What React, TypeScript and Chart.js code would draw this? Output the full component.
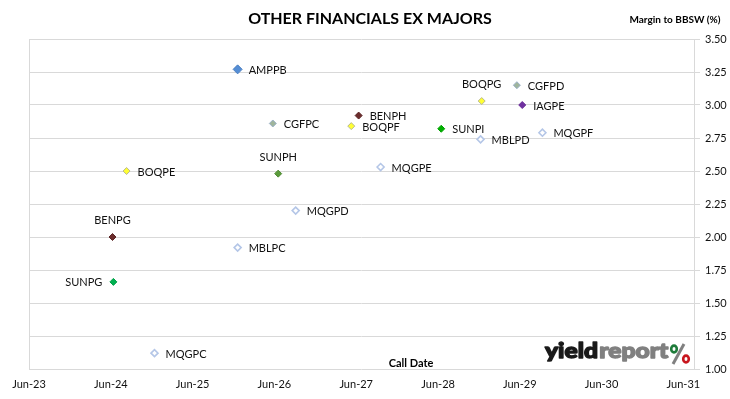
import React, { useEffect, useRef } from "react";
import { Chart, registerables } from "chart.js";

Chart.register(...registerables);

// ---------- data ----------
const securities = [
  "AMPPB", "BOQPG", "CGFPD", "IAGPE", "BENPH", "BOQPF", "CGFPC", "SUNPI", "MBLPD",
  "MQGPF", "BOQPE", "SUNPH", "MQGPE", "MQGPD", "BENPG", "MBLPC", "SUNPG", "MQGPC",
];
const callDates = [
  "2025-12-19", "2028-12-13", "2029-05-19", "2029-06-12", "2027-06-12", "2027-05-10",
  "2026-05-25", "2028-06-15", "2028-12-08", "2029-09-10", "2024-08-10", "2026-06-18",
  "2027-09-18", "2026-09-04", "2024-06-08", "2025-12-19", "2024-06-12", "2024-12-13",
];
const margins = [
  3.27, 3.03, 3.15, 3.0, 2.92, 2.84, 2.86, 2.82, 2.74,
  2.79, 2.5, 2.48, 2.53, 2.2, 2.0, 1.92, 1.66, 1.12,
];
const xTickLabels = ["Jun-23", "Jun-24", "Jun-25", "Jun-26", "Jun-27", "Jun-28", "Jun-29", "Jun-30", "Jun-31"];
const yMin = 1.0;
const yMax = 3.5;
const yStep = 0.25;
const titleText = "OTHER FINANCIALS EX MAJORS";
const yAxisTitle = "Margin to BBSW (%)";
const xAxisTitle = "Call Date";

// ---------- styles (kept apart from data) ----------
const issuerColours: Record<string, { bg: string; border: string; r: number }> = {
  AMPPB: { bg: "#558ED5", border: "#4A7EC0", r: 4.5 },
  BOQ: { bg: "#FFFF33", border: "#B8B890", r: 3.5 },
  CGF: { bg: "#9FB59C", border: "#9AB0C8", r: 3.5 },
  IAG: { bg: "#7030A0", border: "#6A2E98", r: 3.5 },
  BEN: { bg: "#6B2C2C", border: "#5A2424", r: 3.5 },
  SUNPI: { bg: "#00B000", border: "#00A000", r: 3.5 },
  SUNPH: { bg: "#5A9A3A", border: "#4E8A32", r: 3.5 },
  SUNPG: { bg: "#00B050", border: "#00A048", r: 3.5 },
  MQG: { bg: "#FFFFFF", border: "#B4C6E7", r: 3.5 },
};
const styleFor = (s: string) =>
  issuerColours[s] || issuerColours[s.slice(0, 3)] || issuerColours.MQG;
const labelPlacement = [
  "right", "above", "right", "right", "right", "right", "right", "right", "right",
  "right", "right", "above", "right", "right", "above", "right", "left", "right",
];

const monthNames = ["Jan", "Feb", "Mar", "Apr", "May", "Jun", "Jul", "Aug", "Sep", "Oct", "Nov", "Dec"];
const decYear = (y: number, m: number, d: number) => {
  const t0 = Date.UTC(y, 0, 1);
  const t1 = Date.UTC(y + 1, 0, 1);
  return y + (Date.UTC(y, m, d) - t0) / (t1 - t0);
};
const isoToYear = (s: string) => {
  const [y, m, d] = s.split("-").map(Number);
  return decYear(y, m - 1, d);
};
const tickToYear = (s: string) => {
  const [mon, yy] = s.split("-");
  return decYear(2000 + Number(yy), monthNames.indexOf(mon), 1);
};
const xTickValues = xTickLabels.map(tickToYear);

const FONT = "Lato, 'Open Sans', sans-serif";

export default function App() {
  const ref = useRef<HTMLCanvasElement | null>(null);

  useEffect(() => {
    document.body.style.margin = "0";
    const canvas = ref.current;
    if (!canvas) return;

    const points = callDates.map((d, i) => ({ x: isoToYear(d), y: margins[i] }));

    const labelsPlugin = {
      id: "pointLabels",
      afterDatasetsDraw(chart: any) {
        const ctx = chart.ctx;
        const meta = chart.getDatasetMeta(0);
        ctx.save();
        ctx.font = `11px ${FONT}`;
        ctx.fillStyle = "#111";
        meta.data.forEach((el: any, i: number) => {
          const p = labelPlacement[i];
          const name = securities[i];
          ctx.textBaseline = "middle";
          if (p === "right") {
            ctx.textAlign = "left";
            ctx.fillText(name, el.x + 11, el.y + 1);
          } else if (p === "left") {
            ctx.textAlign = "right";
            ctx.fillText(name, el.x - 11, el.y + 0.5);
          } else {
            ctx.textAlign = "center";
            ctx.fillText(name, el.x, el.y - 16.5);
          }
        });
        ctx.restore();
      },
      afterDraw(chart: any) {
        const ctx = chart.ctx;
        const a = chart.chartArea;
        ctx.save();
        ctx.fillStyle = "#000";
        ctx.textBaseline = "middle";
        ctx.textAlign = "center";
        ctx.font = `bold 16px ${FONT}`;
        ctx.fillText(titleText, 370, 19);
        ctx.font = `bold 10px ${FONT}`;
        ctx.fillText(yAxisTitle, 675, 19.5);
        ctx.font = `bold 11px ${FONT}`;
        ctx.fillText(xAxisTitle, 411, a.bottom - 6);

        // yieldreport logo
        const base = a.bottom - 11;
        const endX = a.right - 27;
        ctx.font = `900 20px ${FONT}`;
        ctx.textBaseline = "alphabetic";
        ctx.textAlign = "left";
        const wY = ctx.measureText("yield").width;
        const wR = ctx.measureText("report").width;
        const target = 122;
        const sx = target / (wY + wR);
        const startX = endX - target;
        ctx.save();
        ctx.translate(startX, base);
        ctx.scale(sx, 1.05);
        ctx.lineJoin = "round";
        ctx.lineWidth = 1.3;
        ctx.fillStyle = "#1A1A1A";
        ctx.strokeStyle = "#1A1A1A";
        ctx.fillText("yield", 0, 0);
        ctx.strokeText("yield", 0, 0);
        ctx.fillStyle = "#808080";
        ctx.strokeStyle = "#808080";
        ctx.fillText("report", wY + 1, 0);
        ctx.strokeText("report", wY + 1, 0);
        ctx.restore();
        // percent sign
        ctx.strokeStyle = "#808080";
        ctx.lineWidth = 3;
        ctx.lineCap = "butt";
        ctx.beginPath();
        ctx.moveTo(a.right - 10, a.bottom - 25);
        ctx.lineTo(a.right - 21, a.bottom - 5);
        ctx.stroke();
        ctx.lineWidth = 2.6;
        ctx.strokeStyle = "#1E7B3A";
        ctx.beginPath();
        ctx.ellipse(a.right - 20, a.bottom - 20, 2.8, 3.4, 0, 0, Math.PI * 2);
        ctx.stroke();
        ctx.strokeStyle = "#C8161E";
        ctx.beginPath();
        ctx.ellipse(a.right - 8, a.bottom - 10, 2.8, 3.4, 0, 0, Math.PI * 2);
        ctx.stroke();
        ctx.restore();
      },
    };

    const chart = new Chart(canvas, {
      type: "scatter",
      data: {
        datasets: [
          {
            data: points,
            pointStyle: "rectRot",
            pointRadius: securities.map((s) => styleFor(s).r),
            pointHoverRadius: securities.map((s) => styleFor(s).r),
            pointBackgroundColor: securities.map((s) => styleFor(s).bg),
            pointBorderColor: securities.map((s) => styleFor(s).border),
            pointBorderWidth: securities.map((s) => (styleFor(s).bg === "#FFFFFF" ? 1.6 : 1)),
          },
        ],
      },
      options: {
        animation: false,
        responsive: true,
        maintainAspectRatio: false,
        layout: { padding: { left: 29, top: 39, right: 0, bottom: 0 } },
        plugins: {
          legend: { display: false },
          tooltip: { enabled: false },
          title: { display: false },
        },
        scales: {
          x: {
            type: "linear",
            min: xTickValues[0],
            max: xTickValues[xTickValues.length - 1] + 0.13,
            afterBuildTicks: (scale: any) => {
              scale.ticks = xTickValues.map((v) => ({ value: v }));
            },
            afterFit: (scale: any) => {
              scale.height = 30;
            },
            grid: {
              color: (c: any) => (c.index === 0 ? "#D9D9D9" : "rgba(0,0,0,0)"),
              drawTicks: false,
            },
            border: { display: false },
            ticks: {
              autoSkip: false,
              maxRotation: 0,
              padding: 9,
              color: "#111",
              font: { family: FONT, size: 11 },
              callback: (_v: any, i: number) => xTickLabels[i],
            },
          },
          y: {
            position: "right",
            min: yMin,
            max: yMax,
            afterFit: (scale: any) => {
              scale.width = 36;
            },
            grid: { color: "#D9D9D9", tickLength: 6 },
            border: { display: true, color: "#D9D9D9" },
            ticks: {
              stepSize: yStep,
              padding: 5,
              color: "#111",
              font: { family: FONT, size: 11 },
              callback: (v: any) => Number(v).toFixed(2),
            },
          },
        },
      },
      plugins: [labelsPlugin],
    });

    return () => chart.destroy();
  }, []);

  return (
    <div style={{ position: "relative", width: 730, height: 399, background: "#fff" }}>
      <canvas ref={ref} />
    </div>
  );
}
